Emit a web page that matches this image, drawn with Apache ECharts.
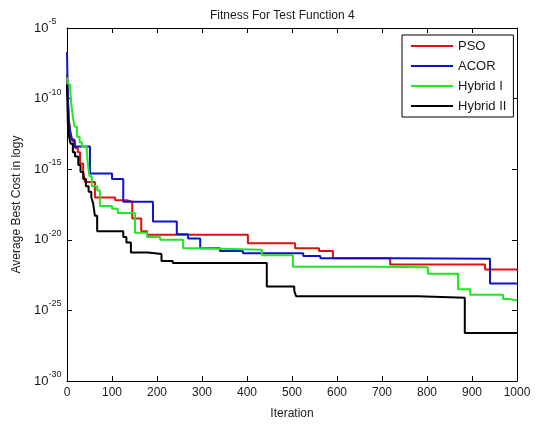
<!DOCTYPE html>
<html>
<head>
<meta charset="utf-8">
<script src="https://cdn.jsdelivr.net/npm/echarts@6/dist/echarts.min.js"></script>
<style>
  html, body { margin: 0; padding: 0; background: #fff; }
  #chart { width: 536px; height: 425px; }
</style>
</head>
<body>
<div id="chart"></div>
<script>
// each point = iteration where a new best-cost level starts, and log10 of that cost
const psoIter = [0, 1, 3, 5, 8, 12, 18, 24, 29, 36, 40, 62, 107, 133, 145, 165, 178, 402, 507, 560, 591, 718, 929, 1000];
const psoLog  = [-8.3, -9.5, -10.8, -11.8, -12.6, -13.0, -13.5, -13.8, -14.6, -15.2, -15.9, -17.0, -17.2, -17.3, -18.5, -19.4, -19.65, -20.25, -20.6, -20.8, -21.3, -21.75, -22.1, -22.2];

const acorIter = [0, 1, 2, 4, 7, 11, 16, 51, 100, 125, 191, 244, 269, 296, 340, 391, 525, 563, 733, 940, 1000];
const acorLog  = [-6.7, -8.5, -10.0, -11.5, -12.3, -12.9, -13.4, -15.3, -15.7, -17.3, -18.7, -19.6, -19.9, -20.6, -20.8, -20.95, -21.15, -21.3, -21.35, -23.1, -23.1];

const hyb1Iter = [0, 2, 7, 10, 13, 17, 22, 28, 33, 44, 47, 50, 55, 67, 73, 100, 113, 151, 178, 207, 258, 296, 433, 502, 680, 802, 869, 896, 969, 985, 1000];
const hyb1Log  = [-8.5, -9.0, -9.4, -10.5, -11.3, -12.0, -12.7, -13.1, -13.4, -13.8, -14.8, -15.5, -16.2, -16.5, -17.6, -17.8, -18.1, -19.5, -19.8, -20.0, -20.6, -20.7, -21.1, -21.9, -21.95, -22.4, -23.5, -23.9, -24.2, -24.3, -24.3];

const hyb2Iter = [0, 1, 2, 4, 8, 13, 18, 25, 30, 36, 42, 48, 54, 58, 62, 67, 125, 132, 142, 180, 210, 235, 444, 505, 509, 780, 884, 1000];
const hyb2Log  = [-9.0, -10.5, -11.8, -12.6, -13.2, -13.8, -14.1, -14.7, -15.2, -15.7, -16.2, -16.6, -17.0, -17.4, -18.3, -19.4, -19.8, -20.2, -20.9, -21.0, -21.5, -21.65, -23.3, -23.6, -24.0, -24.1, -26.6, -26.6];

const seriesNames = ['PSO', 'ACOR', 'Hybrid I', 'Hybrid II'];
const seriesColors = ['#dd1111', '#1111cc', '#22e622', '#000000'];

const font = 'Liberation Sans, Arial, sans-serif';
const ink = '#1a1a1a';

function zip(xs, ys) {
  return xs.map((x, i) => [x, ys[i]]);
}

const allData = [
  zip(psoIter, psoLog),
  zip(acorIter, acorLog),
  zip(hyb1Iter, hyb1Log),
  zip(hyb2Iter, hyb2Log)
];

const myChart = echarts.init(document.getElementById('chart'));

const tickStyle = { inside: true, length: 5, lineStyle: { color: '#000', width: 1 } };
const lineStyle = { show: true, onZero: false, lineStyle: { color: '#000', width: 1 } };

const option = {
  animation: false,
  backgroundColor: '#fff',
  title: {
    text: 'Fitness For Test Function 4',
    left: 205,
    top: 5,
    textStyle: { fontFamily: font, fontSize: 12, fontWeight: 'normal', color: ink }
  },
  legend: {
    orient: 'vertical',
    left: 402,
    top: 35,
    padding: [4, 7, 4, 9],
    itemGap: 6,
    itemWidth: 42,
    itemHeight: 2,
    icon: 'rect',
    borderColor: '#000',
    borderWidth: 1,
    backgroundColor: '#fff',
    textStyle: { fontFamily: font, fontSize: 13, color: ink, lineHeight: 14 },
    data: seriesNames
  },
  grid: { left: 67, top: 28, width: 450, height: 356 },
  xAxis: [
    {
      type: 'value',
      min: 0,
      max: 1000,
      interval: 100,
      name: 'Iteration',
      nameLocation: 'middle',
      nameGap: 27,
      nameTextStyle: { fontFamily: font, fontSize: 12, color: ink },
      axisLine: lineStyle,
      axisTick: tickStyle,
      splitLine: { show: false },
      axisLabel: { margin: 6, fontFamily: font, fontSize: 12, color: ink, formatter: v => String(v) }
    },
    {
      type: 'value',
      position: 'top',
      min: 0,
      max: 1000,
      interval: 100,
      axisLine: lineStyle,
      axisTick: tickStyle,
      splitLine: { show: false },
      axisLabel: { show: false }
    }
  ],
  yAxis: [
    {
      type: 'value',
      min: -30,
      max: -5,
      interval: 5,
      name: 'Average Best Cost in logy',
      nameLocation: 'middle',
      nameGap: 41,
      nameTextStyle: { fontFamily: font, fontSize: 12, color: ink },
      axisLine: lineStyle,
      axisTick: tickStyle,
      splitLine: { show: false },
      axisLabel: {
        margin: 33,
        align: 'left',
        formatter: v => '{b|10}{s|' + v + '}',
        rich: {
          b: { fontFamily: font, fontSize: 13, color: ink, lineHeight: 14 },
          s: { fontFamily: font, fontSize: 9, color: ink, lineHeight: 10, padding: [0, 0, 13, 0] }
        }
      }
    },
    {
      type: 'value',
      position: 'right',
      min: -30,
      max: -5,
      interval: 5,
      axisLine: lineStyle,
      axisTick: tickStyle,
      splitLine: { show: false },
      axisLabel: { show: false }
    }
  ],
  series: seriesNames.map((name, i) => ({
    name: name,
    type: 'line',
    step: 'end',
    showSymbol: false,
    symbol: 'none',
    color: seriesColors[i],
    lineStyle: { color: seriesColors[i], width: 2 },
    data: allData[i]
  }))
};

myChart.setOption(option);
</script>
</body>
</html>
